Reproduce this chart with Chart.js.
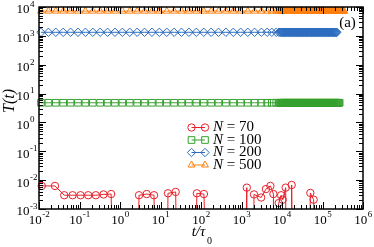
<!DOCTYPE html>
<html>
<head>
<meta charset="utf-8">
<script src="https://cdn.jsdelivr.net/npm/chart.js@4.4.0/dist/chart.umd.min.js"></script>
<style>
html, body { margin: 0; padding: 0; background: #fff; }
canvas { display: block; }
</style>
</head>
<body>
<canvas id="grafica" width="374" height="247"></canvas>
<script>
// T(t) contra t/tau0 para varios N (escala log-log)

// tiempos comunes de N = 100, 200, 500
const tiempos = [
    0.0112, 0.0171, 0.026, 0.0396, 0.0603, 0.0918, 0.14, 0.213, 0.324, 0.493,
    0.751, 1.145, 1.74, 2.65, 4.04, 6.15, 9.37, 14.3, 21.7, 33,
    50.3, 76.7, 117, 178, 270, 412, 627, 955, 1430, 2100,
    3100, 4300, 5600, 7200,
    8400, 8900, 9400, 9900, 10300, 10700, 11100, 11600, 12000, 12500,
    13000, 13500, 14100, 14600, 15200, 15800, 16400, 17100, 17800, 18500,
    19200, 20000, 20800, 21600, 22500, 23400, 24300, 25300, 26300, 27300,
    28400, 29500, 30700, 31900, 33200, 34500, 35900, 37300, 38800, 40400,
    42000, 43700, 45400, 47200, 49100, 51100, 53100, 55300, 57500, 59800,
    62200, 64700, 67200, 69900, 72700, 75600, 78600, 81800, 85100, 88500,
    92000, 95700, 99500, 103500, 107600, 111900, 116400, 121100, 125900, 130900,
    136200, 141600, 147300, 153200, 159300, 165700, 172300, 179200, 186400, 193800,
    201600, 209600, 218000, 226700, 235800, 245200, 255000, 265200, 275800, 286900,
    298300, 310300, 322700, 335600, 342000
];

const valores_100 = [
    4.8, 4.8, 4.8, 4.8, 4.8, 4.8, 4.8, 4.8, 4.8, 4.8,
    4.8, 4.8, 4.8, 4.8, 4.8, 4.8, 4.8, 4.8, 4.8, 4.8,
    4.8, 4.8, 4.8, 4.8, 4.8, 4.8, 4.8, 4.8, 4.8, 4.8,
    4.8, 4.8, 4.8, 4.8,
    4.8, 4.8, 4.8, 4.8, 4.8, 4.8, 4.8, 4.8, 4.8, 4.8,
    4.8, 4.8, 4.8, 4.8, 4.8, 4.8, 4.8, 4.8, 4.8, 4.8,
    4.8, 4.8, 4.8, 4.8, 4.8, 4.8, 4.8, 4.8, 4.8, 4.8,
    4.8, 4.8, 4.8, 4.8, 4.8, 4.8, 4.8, 4.8, 4.8, 4.8,
    4.8, 4.8, 4.8, 4.8, 4.8, 4.8, 4.8, 4.8, 4.8, 4.8,
    4.8, 4.8, 4.8, 4.8, 4.8, 4.8, 4.8, 4.8, 4.8, 4.8,
    4.8, 4.8, 4.8, 4.8, 4.8, 4.8, 4.8, 4.8, 4.8, 4.8,
    4.8, 4.8, 4.8, 4.8, 4.8, 4.8, 4.8, 4.8, 4.8, 4.8,
    4.8, 4.8, 4.8, 4.8, 4.8, 4.8, 4.8, 4.8
];

const valores_200 = [
    1330, 1330, 1330, 1330, 1330, 1330, 1330, 1330, 1330, 1330,
    1330, 1330, 1330, 1330, 1330, 1330, 1330, 1330, 1330, 1330,
    1330, 1330, 1330, 1330, 1330, 1330, 1330, 1330, 1330, 1330,
    1330, 1330, 1330, 1330,
    1330, 1330, 1330, 1330, 1330, 1330, 1330, 1330, 1330, 1330,
    1330, 1330, 1330, 1330, 1330, 1330, 1330, 1330, 1330, 1330,
    1330, 1330, 1330, 1330, 1330, 1330, 1330, 1330, 1330, 1330,
    1330, 1330, 1330, 1330, 1330, 1330, 1330, 1330, 1330, 1330,
    1330, 1330, 1330, 1330, 1330, 1330, 1330, 1330, 1330, 1330,
    1330, 1330, 1330, 1330, 1330, 1330, 1330, 1330, 1330, 1330,
    1330, 1330, 1330, 1330, 1330, 1330, 1330, 1330, 1330, 1330,
    1330, 1330, 1330, 1330, 1330, 1330, 1330, 1330, 1330, 1330,
    1330, 1330, 1330, 1330
];

const valores_500 = [
    7200, 7200, 7200, 7200, 7200, 7200, 7200, 7200, 7200, 7200,
    7200, 7200, 7200, 7200, 7200, 7200, 7200, 7200, 7200, 7200,
    7200, 7200, 7200, 7200, 7200, 7200, 7200, 7200, 7200, 7200,
    7200, 7200, 7200, 7200,
    7200, 7200, 7200, 7200, 7200, 7200, 7200, 7200, 7200, 7200,
    7200, 7200, 7200, 7200, 7200, 7200, 7200, 7200, 7200, 7200,
    7200, 7200, 7200, 7200, 7200, 7200, 7200, 7200, 7200, 7200,
    7200, 7200, 7200, 7200, 7200, 7200, 7200, 7200, 7200, 7200,
    7200, 7200, 7200, 7200, 7200, 7200, 7200, 7200, 7200, 7200,
    7200, 7200, 7200, 7200, 7200, 7200, 7200, 7200, 7200, 7200,
    7200, 7200, 7200, 7200, 7200, 7200, 7200, 7200, 7200, 7200,
    7200, 7200, 7200, 7200, 7200, 7200, 7200, 7200, 7200, 7200,
    7200, 7200, 7200, 7200, 7200, 7200, 7200, 7200, 7200, 7200,
    7200, 7200, 7200, 7200, 7200
];

// N = 70: los ceros no se ven en escala log (caen fuera del eje)
const tiempos_70 = [
    0.0117, 0.0248, 0.042, 0.0676, 0.106, 0.164, 0.253, 0.392, 0.604, 1.5,
    2.95, 4.57, 6.92, 10.5, 15.3, 23.7, 42, 79, 118, 500,
    1352, 1700, 2033, 3055, 4010, 5176, 6135, 7100, 8290, 9500,
    10400, 12330, 14500, 17330, 28000, 50100, 60400, 120000
];
const valores_70 = [
    0.0063, 0.0063, 0.0030, 0.0030, 0.0030, 0.0030, 0.0030, 0.0032, 0.0033, 0,
    0.0030, 0.0033, 0.0030, 0, 0.0035, 0.0039, 0, 0.0035, 0.0033, 0,
    0.0055, 0, 0.0032, 0.0025, 0.0049, 0.0063, 0.0033, 0, 0.0016, 0.0030,
    0.0021, 0.0055, 0, 0.0068, 0, 0.0036, 0.0021, 0
];

const etiquetas_N = ['70', '100', '200', '500'];
const decadas_x = [-2, -1, 0, 1, 2, 3, 4, 5, 6];
const decadas_y = [-3, -2, -1, 0, 1, 2, 3, 4];

const SERIF = "'Liberation Serif', 'Times New Roman', serif";

function puntos(ts, vs) {
    // el cero se manda muy abajo para que la linea baje en vertical
    return vs.map((v, i) => ({x: ts[i], y: v > 0 ? v : 1e-30}));
}

function serie(etiqueta, datos, color, estilo, radio) {
    return {
        label: etiqueta,
        data: datos,
        borderColor: color,
        backgroundColor: 'rgba(0,0,0,0)',
        borderWidth: 1,
        pointStyle: estilo,
        pointRadius: radio,
        pointBorderWidth: 1,
        pointBackgroundColor: 'rgba(0,0,0,0)',
        pointBorderColor: color,
        showLine: true,
        tension: 0,
        clip: {left: 6, top: 6, right: 6, bottom: 0}
    };
}

// dibuja "10" con exponente
function potencia(ctx, exp, x, y, modo) {
    ctx.font = '13px ' + SERIF;
    let w10 = ctx.measureText('10').width;
    ctx.font = '9px ' + SERIF;
    let we = ctx.measureText(String(exp)).width;
    let x0;
    if (modo === 'centro') {
        x0 = x - (w10 + we) / 2;
    } else {
        x0 = x - w10;
    }
    ctx.textAlign = 'left';
    ctx.textBaseline = 'middle';
    ctx.font = '13px ' + SERIF;
    ctx.fillText('10', x0, y);
    ctx.font = '9px ' + SERIF;
    ctx.fillText(String(exp), x0 + w10 + 0.5, y - 5.5);
}

const ejes = {
    id: 'ejes',
    afterDraw(chart) {
        const ctx = chart.ctx;
        const a = chart.chartArea;
        const sx = chart.scales.x;
        const sy = chart.scales.y;
        ctx.save();
        ctx.strokeStyle = '#000';
        ctx.fillStyle = '#000';
        ctx.lineWidth = 1;

        // marcas del eje x (abajo y arriba, hacia dentro)
        ctx.beginPath();
        decadas_x.forEach(d => {
            for (let m = 1; m <= 9; m++) {
                let v = m * Math.pow(10, d);
                if (v > sx.max * 1.0001) break;
                let px = Math.round(sx.getPixelForValue(v)) + 0.5;
                let largo = m === 1 ? 7 : 4;
                ctx.moveTo(px, a.bottom);
                ctx.lineTo(px, a.bottom - largo);
                ctx.moveTo(px, a.top);
                ctx.lineTo(px, a.top + largo);
            }
        });
        // marcas del eje y (izquierda y derecha)
        decadas_y.forEach(d => {
            for (let m = 1; m <= 9; m++) {
                let v = m * Math.pow(10, d);
                if (v > sy.max * 1.0001) break;
                let py = Math.round(sy.getPixelForValue(v)) + 0.5;
                let largo = m === 1 ? 7 : 4;
                ctx.moveTo(a.left, py);
                ctx.lineTo(a.left + largo, py);
                ctx.moveTo(a.right, py);
                ctx.lineTo(a.right - largo, py);
            }
        });
        ctx.stroke();

        // marco
        ctx.lineWidth = 1.5;
        ctx.strokeRect(a.left, a.top, a.right - a.left, a.bottom - a.top);

        // etiquetas
        decadas_x.forEach(d => {
            potencia(ctx, d, sx.getPixelForValue(Math.pow(10, d)), a.bottom + 11.5, 'centro');
        });
        decadas_y.forEach(d => {
            potencia(ctx, d, 29.5, sy.getPixelForValue(Math.pow(10, d)) + 3, 'derecha');
        });

        // titulos
        ctx.textAlign = 'center';
        ctx.textBaseline = 'middle';
        ctx.font = 'italic 16px ' + SERIF;
        ctx.save();
        ctx.translate(10, 101);
        ctx.rotate(-Math.PI / 2);
        ctx.fillText('T(t)', 0, 0);
        ctx.restore();

        ctx.font = 'italic 15px ' + SERIF;
        ctx.fillText('t/τ', 198.5, 232);
        ctx.font = '10px ' + SERIF;
        ctx.fillText('0', 209.5, 241);

        ctx.font = '15px ' + SERIF;
        ctx.fillText('(a)', 347.5, 23.5);

        // leyenda
        chart.data.datasets.forEach((ds, i) => {
            let y = 127.5 + i * 12.5;
            ctx.strokeStyle = ds.borderColor;
            ctx.lineWidth = 1;
            ctx.beginPath();
            ctx.moveTo(191.5, y);
            ctx.lineTo(205, y);
            ctx.stroke();
            [191.5, 205].forEach(px => {
                ctx.fillStyle = 'rgba(0,0,0,0)';
                ctx.strokeStyle = ds.borderColor;
                Chart.helpers.drawPoint(ctx, {
                    pointStyle: ds.pointStyle, radius: ds.pointRadius,
                    rotation: 0, borderWidth: 1
                }, px, y);
            });
            ctx.fillStyle = '#000';
            ctx.textAlign = 'left';
            ctx.font = 'italic 15px ' + SERIF;
            ctx.fillText('N', 213, y);
            let wn = ctx.measureText('N').width;
            ctx.font = '15px ' + SERIF;
            ctx.fillText(' = ' + etiquetas_N[i], 213 + wn, y);
        });
        ctx.restore();
    }
};

let grafica = new Chart(document.getElementById('grafica').getContext('2d'), {
    type: 'scatter',
    data: {
        datasets: [
            serie('N = 70', puntos(tiempos_70, valores_70), '#e8202a', 'circle', 3.7),
            serie('N = 100', puntos(tiempos, valores_100), '#35a02e', 'rect', 4.7),
            serie('N = 200', puntos(tiempos, valores_200), '#2b6cbf', 'rectRot', 4.2),
            serie('N = 500', puntos(tiempos, valores_500), '#ff7f0e', 'triangle', 4)
        ]
    },
    options: {
        responsive: false,
        animation: false,
        events: [],
        layout: {padding: {left: 39, right: 11, top: 7, bottom: 38}},
        scales: {
            x: {type: 'logarithmic', min: 1e-2, max: 1e6, display: false},
            y: {type: 'logarithmic', min: 1e-3, max: 1e4, display: false}
        },
        plugins: {
            legend: {display: false},
            tooltip: {enabled: false}
        }
    },
    plugins: [ejes]
});
</script>
</body>
</html>
